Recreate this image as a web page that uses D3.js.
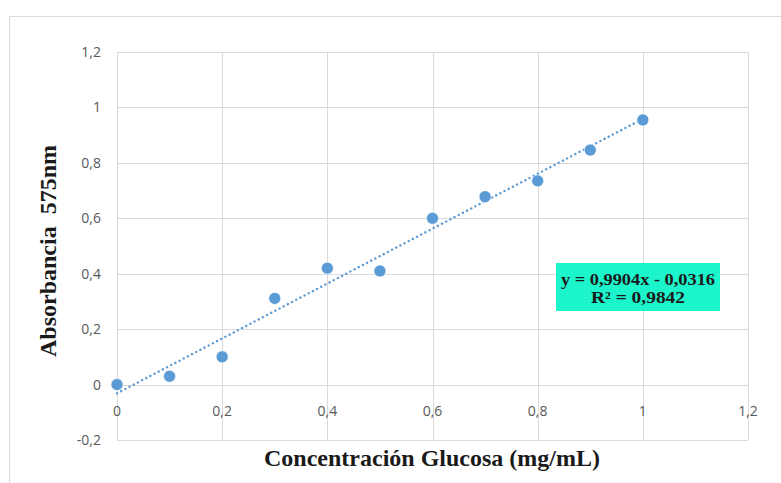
<!DOCTYPE html>
<html>
<head>
<meta charset="utf-8">
<script src="https://cdn.jsdelivr.net/npm/d3@7"></script>
<style>
  body { margin: 0; background: #fff; }
</style>
</head>
<body>
<svg width="781" height="483"></svg>
<script>
// data
let concentracion = [0, 0.1, 0.2, 0.3, 0.4, 0.5, 0.6, 0.7, 0.8, 0.9, 1];
let absorbancia = [0, 0.03, 0.1, 0.311, 0.42, 0.41, 0.6, 0.678, 0.735, 0.846, 0.955];
let xTicks = [0, 0.2, 0.4, 0.6, 0.8, 1, 1.2];
let yTicks = [-0.2, 0, 0.2, 0.4, 0.6, 0.8, 1, 1.2];
let slope = 0.9904,
    intercept = -0.0316;
let eqLines = ["y = 0,9904x - 0,0316", "R² = 0,9842"];

let svg = d3.select("svg");
let fmt = (d) => String(d).replace(".", ",");

let x = d3.scaleLinear().domain([0, 1.2]).range([117, 748]);
let y = d3.scaleLinear().domain([-0.2, 1.2]).range([440, 52]);

// outer chart frame
svg.append("rect")
    .attr("x", 9.5).attr("y", 16.5)
    .attr("width", 800).attr("height", 500)
    .attr("fill", "none")
    .attr("stroke", "#d9d9d9");

// gridlines
svg.append("g").selectAll("line")
    .data(yTicks).enter().append("line")
    .attr("x1", x(0)).attr("x2", x(1.2))
    .attr("y1", (d) => Math.round(y(d)) + 0.5)
    .attr("y2", (d) => Math.round(y(d)) + 0.5)
    .attr("stroke", "#d9d9d9");

svg.append("g").selectAll("line")
    .data(xTicks).enter().append("line")
    .attr("y1", y(-0.2)).attr("y2", y(1.2))
    .attr("x1", (d) => Math.round(x(d)) + 0.5)
    .attr("x2", (d) => Math.round(x(d)) + 0.5)
    .attr("stroke", "#d9d9d9");

// tick labels
svg.append("g").selectAll("text")
    .data(yTicks).enter().append("text")
    .attr("x", 101)
    .attr("y", (d) => y(d) + 5)
    .attr("text-anchor", "end")
    .attr("font-family", "Open Sans, sans-serif")
    .attr("font-size", "14px")
    .attr("fill", "#595959")
    .text(fmt);

svg.append("g").selectAll("text")
    .data(xTicks).enter().append("text")
    .attr("x", (d) => x(d))
    .attr("y", 416)
    .attr("text-anchor", "middle")
    .attr("font-family", "Open Sans, sans-serif")
    .attr("font-size", "14px")
    .attr("fill", "#595959")
    .text(fmt);

// trendline
svg.append("line")
    .attr("x1", x(0)).attr("y1", y(intercept))
    .attr("x2", x(1)).attr("y2", y(slope + intercept))
    .attr("stroke", "#5b9bd5")
    .attr("stroke-width", 2.4)
    .attr("stroke-dasharray", "0.1 4.6")
    .attr("stroke-linecap", "round");

// points
svg.append("g").selectAll("circle")
    .data(concentracion).enter().append("circle")
    .attr("cx", (d) => x(d))
    .attr("cy", (d, i) => y(absorbancia[i]))
    .attr("r", 6)
    .attr("fill", "#5b9bd5")
    .attr("stroke", "#ffffff")
    .attr("stroke-width", 0.6);

// equation box
let eq = svg.append("g").attr("transform", "translate(556,263)");
eq.append("rect")
    .attr("width", 164).attr("height", 48)
    .attr("fill", "#1cf4cb");
eq.selectAll("text")
    .data(eqLines).enter().append("text")
    .attr("x", 82)
    .attr("y", (d, i) => 22 + i * 18)
    .attr("text-anchor", "middle")
    .attr("font-family", "Liberation Serif, Times New Roman, serif")
    .attr("font-weight", "bold")
    .attr("font-size", "16px")
    .attr("textLength", (d, i) => (i == 0 ? 154 : 94))
    .attr("lengthAdjust", "spacingAndGlyphs")
    .attr("fill", "#1a1a1a")
    .text((d) => d);

// axis titles
svg.append("text")
    .attr("transform", "translate(56,251) rotate(-90)")
    .attr("text-anchor", "middle")
    .attr("font-family", "Liberation Serif, Times New Roman, serif")
    .attr("font-weight", "bold")
    .attr("font-size", "24px")
    .attr("fill", "#1a1a1a")
    .style("white-space", "pre")
    .text("Absorbancia  575nm");

svg.append("text")
    .attr("x", 432)
    .attr("y", 466)
    .attr("text-anchor", "middle")
    .attr("font-family", "Liberation Serif, Times New Roman, serif")
    .attr("font-weight", "bold")
    .attr("font-size", "24px")
    .attr("fill", "#1a1a1a")
    .text("Concentración Glucosa (mg/mL)");
</script>
</body>
</html>
